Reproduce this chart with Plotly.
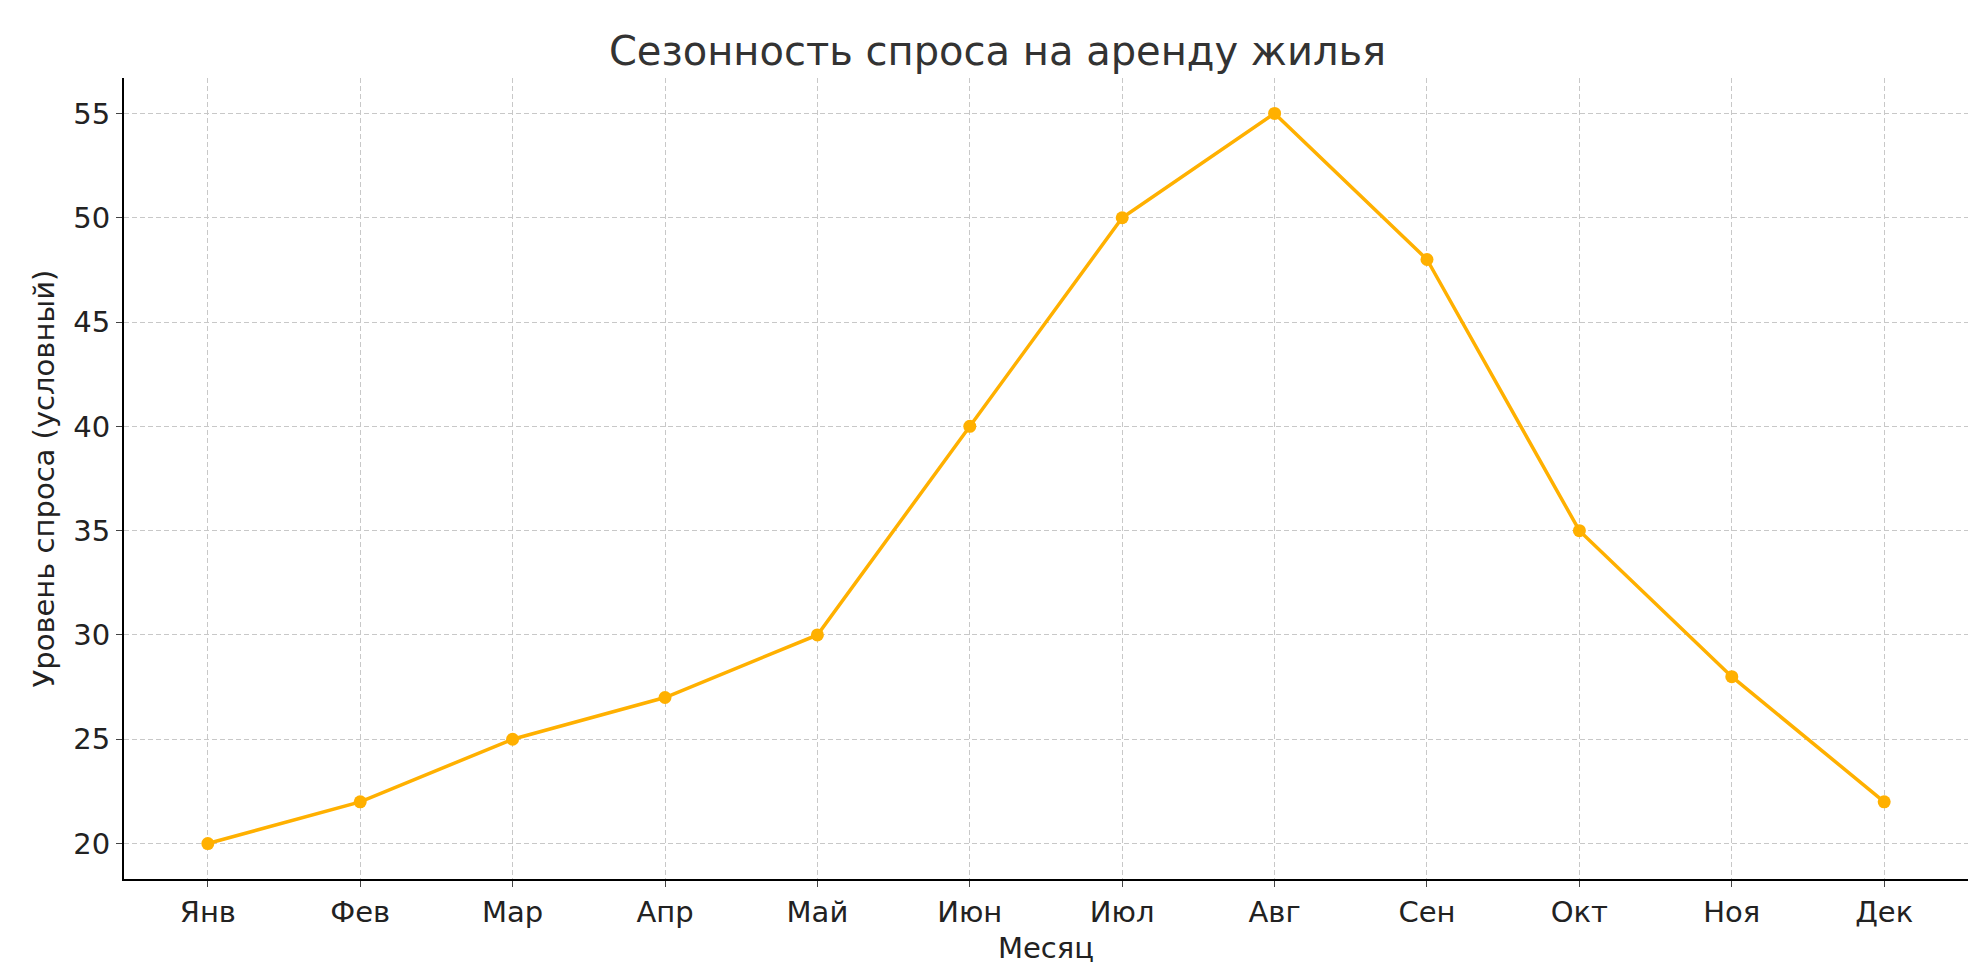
import plotly.graph_objects as go

months = ["Янв","Фев","Мар","Апр","Май","Июн","Июл","Авг","Сен","Окт","Ноя","Дек"]
demand = [20,22,25,27,30,40,50,55,48,35,28,22]

fig = go.Figure(go.Scatter(x=list(range(12)), y=demand, mode="lines+markers",
    line=dict(color="#FFB000", width=3.5), marker=dict(size=13, color="#FFB000")))
font = "DejaVu Sans"
fig.update_layout(
    width=1979, height=980, paper_bgcolor="white", plot_bgcolor="white",
    margin=dict(l=116, r=19, t=70, b=109),
    title=dict(text="Сезонность спроса на аренду жилья", x=0.5, xanchor="center", y=0.97,
               font=dict(family=font, size=40, color="#333333")),
    font=dict(family=font, size=29, color="#222222"), showlegend=False)
fig.update_xaxes(tickvals=list(range(12)), ticktext=months, range=[-0.55, 11.55],
    showgrid=True, gridcolor="#c8c8c8", griddash="5px,3px", gridwidth=1,
    showline=True, linecolor="black", linewidth=2, ticks="outside", ticklen=6,
    title=dict(text="Месяц", font=dict(size=29), standoff=10), zeroline=False)
fig.update_yaxes(tickvals=[20,25,30,35,40,45,50,55], range=[18.3, 56.7],
    showgrid=True, gridcolor="#c8c8c8", griddash="5px,3px", gridwidth=1,
    showline=True, linecolor="black", linewidth=2, ticks="outside", ticklen=6,
    title=dict(text="Уровень спроса (условный)", font=dict(size=29), standoff=10), zeroline=False)
fig.write_html("out.html")
